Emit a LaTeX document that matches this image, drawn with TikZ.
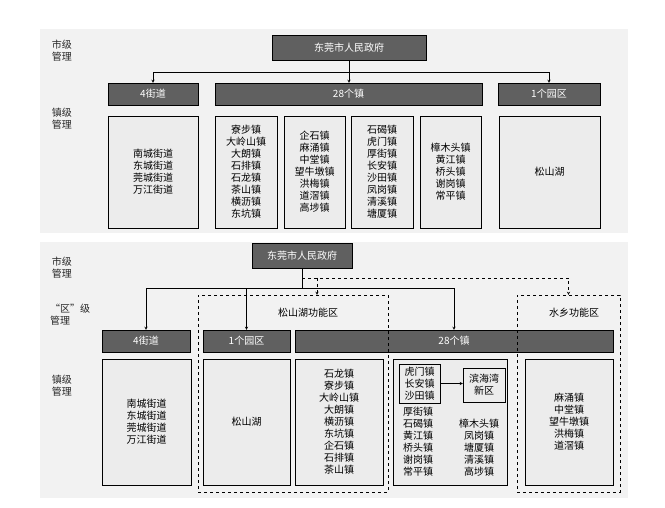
\documentclass[tikz,border=0pt]{standalone}
\usepackage{fontspec}
\setmainfont{Noto Sans CJK SC}
\begin{document}
\begin{tikzpicture}[
		x=1pt, y=-1pt,
		thin,
		font=\fontsize{10}{12}\selectfont,
		>=stealth,
		% barra oscura con texto blanco
		darkBar/.style={draw=black, fill=gray!75!black, text=white, inner sep=0pt},
		% caja clara con la lista de pueblos
		listBox/.style={draw=black, fill=gray!15, align=center, inner sep=0pt},
		areaBox/.style={draw=black, dashed, inner sep=0pt},
		sideLabel/.style={align=left, text=black!85}
	]
	\useasboundingbox (0,0) rectangle (665,508);
	\fill[gray!10] (40,29) rectangle (628,233);
	\fill[gray!10] (40,242) rectangle (628,498);

	% --- 1. Panel superior ---
	\node[sideLabel] (lvA1) at (62,51) {市级\\管理};
	\node[sideLabel] (lvB1) at (62,119) {镇级\\管理};

	\node[darkBar, minimum width=154, minimum height=25] (gov1) at (349,47.5) {东莞市人民政府};

	\node[darkBar, minimum width=90, minimum height=22] (jd1) at (153,94) {4街道};
	\node[darkBar, minimum width=267, minimum height=22] (zhen1) at (348.5,94) {28个镇};
	\node[darkBar, minimum width=102, minimum height=22] (yq1) at (549,94) {1个园区};

	\node[listBox, minimum width=90, minimum height=112] (jdl1) at (153,172) {南城街道\\东城街道\\莞城街道\\万江街道};
	\node[listBox, minimum width=62, minimum height=112] (t1) at (246,172) {寮步镇\\大岭山镇\\大朗镇\\石排镇\\石龙镇\\茶山镇\\横沥镇\\东坑镇};
	\node[listBox, minimum width=61, minimum height=112] (t2) at (314.5,172) {企石镇\\麻涌镇\\中堂镇\\望牛墩镇\\洪梅镇\\道滘镇\\高埗镇};
	\node[listBox, minimum width=62, minimum height=112] (t3) at (382,172) {石碣镇\\虎门镇\\厚街镇\\长安镇\\沙田镇\\凤岗镇\\清溪镇\\塘厦镇};
	\node[listBox, minimum width=61, minimum height=112] (t4) at (450.5,172) {樟木头镇\\黄江镇\\桥头镇\\谢岗镇\\常平镇};
	\node[listBox, minimum width=101, minimum height=112] (ssh1) at (549.5,172) {松山湖};

	\coordinate (hub1) at (349,72);
	\draw (gov1) -- (hub1);
	\draw[->] (hub1) -| (jd1);
	\draw[->] (hub1) -- (hub1 |- zhen1.north);
	\draw[->] (hub1) -| (yq1);

	% --- 2. Panel inferior ---
	\node[sideLabel] (lvA2) at (62,268) {市级\\管理};
	\node[sideLabel] (lvM2) at (70,315) {“区”级\\管理};
	\node[sideLabel] (lvB2) at (62,386) {镇级\\管理};

	\node[darkBar, minimum width=100, minimum height=25] (gov2) at (302,255.5) {东莞市人民政府};

	\node[darkBar, minimum width=88, minimum height=22] (jd2) at (146,341) {4街道};
	\node[darkBar, minimum width=87, minimum height=22] (yq2) at (246.5,341) {1个园区};
	\node[darkBar, minimum width=318, minimum height=22] (zhen2) at (454,341) {28个镇};

	\node[listBox, minimum width=89, minimum height=126] (jdl2) at (146.5,422) {南城街道\\东城街道\\莞城街道\\万江街道};
	\node[listBox, minimum width=87, minimum height=126] (ssh2) at (246.5,422) {松山湖};
	\node[listBox, minimum width=88, minimum height=126] (lst2) at (339,422) {石龙镇\\寮步镇\\大岭山镇\\大朗镇\\横沥镇\\东坑镇\\企石镇\\石排镇\\茶山镇};
	\node[listBox, minimum width=114, minimum height=126] (mix2) at (450,422) {};
	\node[listBox, minimum width=88, minimum height=126] (sx2) at (569,422) {麻涌镇\\中堂镇\\望牛墩镇\\洪梅镇\\道滘镇};

	\node[listBox, minimum width=41, minimum height=39] (hsg) at (419.5,383.5) {虎门镇\\长安镇\\沙田镇};
	\node[listBox, minimum width=42, minimum height=34] (bhw) at (484,385) {滨海湾\\新区};
	\draw[->] (hsg) -- (hsg -| bhw.west);
	\node[align=center] (colL) at (418,441.5) {厚街镇\\石碣镇\\黄江镇\\桥头镇\\谢岗镇\\常平镇};
	\node[align=center] (colR) at (479,447.5) {樟木头镇\\凤岗镇\\塘厦镇\\清溪镇\\高埗镇};

	% areas punteadas
	\node[areaBox, minimum width=190, minimum height=197] (sshq) at (293,393.5) {};
	\node[areaBox, minimum width=103, minimum height=197] (sxq) at (568.5,393.5) {};
	\node (sshqT) at (308,313) {松山湖功能区};
	\node (sxqT) at (574,313) {水乡功能区};

	\coordinate (hub2) at (302,288);
	\draw (gov2) -- (hub2);
	\draw[->] (hub2) -| (jd2);
	\draw[->] (hub2) -| (yq2);
	\draw[->] (hub2) -| (zhen2);

	\coordinate (hub3) at (302,278);
	\coordinate (dhub) at (317,278);
	\draw[dashed,->] (hub3) -| (sxq);
	\draw[dashed,->] (dhub) -- (dhub |- sshq.north);

\end{tikzpicture}
\end{document}
